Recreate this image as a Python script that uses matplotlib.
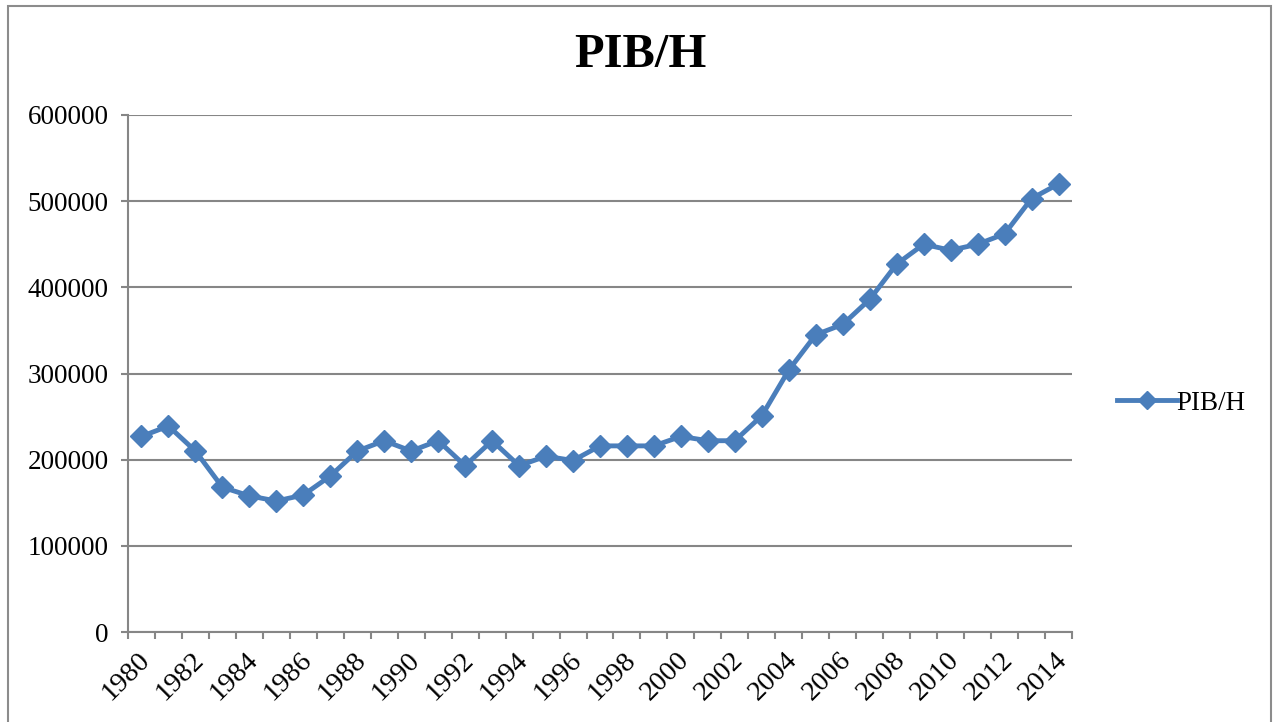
import matplotlib
matplotlib.use("Agg")
import matplotlib.pyplot as plt
from matplotlib.patches import Rectangle
from matplotlib.lines import Line2D
from matplotlib.ticker import FixedLocator, NullFormatter
from matplotlib.transforms import ScaledTranslation

years = list(range(1980, 2015))
pib_h = [227000, 239000, 210000, 168000, 158000, 152000, 159000, 181000, 210000, 222000,
         210000, 222000, 193000, 222000, 193000, 204000, 199000, 216000, 216000, 216000,
         227000, 222000, 222000, 251000, 304000, 345000, 357000, 386000, 427000, 450000,
         443000, 450000, 462000, 503000, 520000]
year_labels = [str(y) for y in years[::2]]
y_ticks = [0, 100000, 200000, 300000, 400000, 500000, 600000]
title = "PIB/H"
series_name = "PIB/H"

plt.rcParams['font.family'] = ['Liberation Serif', 'DejaVu Serif']

W, H = 1274, 722
fig = plt.figure(figsize=(W / 100, H / 100), dpi=100)
ax = fig.add_axes([128 / W, 1 - 632 / H, (1072 - 128) / W, (632 - 115) / H])

grid_c = '#868686'
line_c = '#4a7ebb'

x = list(range(len(years)))
ax.plot(x, pib_h, color=line_c, lw=3.5, marker='D', markersize=11.5,
        markerfacecolor=line_c, markeredgecolor=line_c, zorder=3)

ax.set_xlim(-0.5, len(years) - 0.5)
ax.set_ylim(0, 600000)
ax.set_yticks(y_ticks)
ax.set_yticklabels([str(v) for v in y_ticks])
ax.yaxis.grid(True, color=grid_c, lw=1.5)
ax.set_axisbelow(True)

# x ticks at category boundaries, labels at every other category center
ax.xaxis.set_major_locator(FixedLocator([i - 0.5 for i in range(len(years) + 1)]))
ax.xaxis.set_major_formatter(NullFormatter())
ax.xaxis.set_minor_locator(FixedLocator(x[::2]))
ax.set_xticklabels(year_labels, minor=True, rotation=45, ha='right', va='top',
                   rotation_mode='anchor', fontsize=20.5)
ax.tick_params(axis='x', which='major', length=5, width=1.5, color=grid_c, direction='out')
ax.tick_params(axis='x', which='minor', length=0, pad=11)
ax.tick_params(axis='y', length=5, width=1.5, color=grid_c, labelsize=19.5, pad=9)
offset = ScaledTranslation(-4 / 100, 0, fig.dpi_scale_trans)
for lbl in ax.get_xticklabels(minor=True):
    lbl.set_transform(lbl.get_transform() + offset)

for s in ['top', 'right']:
    ax.spines[s].set_visible(False)
for s in ['left', 'bottom']:
    ax.spines[s].set_color(grid_c)
    ax.spines[s].set_linewidth(1.5)

fig.text(640 / W, 1 - 55 / H, title, ha='center', va='center', fontsize=35, fontweight='bold')

handle = Line2D([], [], color=line_c, lw=3.5, marker='D', markersize=9,
                markerfacecolor=line_c, markeredgecolor=line_c)
fig.legend([handle], [series_name], loc='center left',
           bbox_to_anchor=(1117 / W, 1 - 403 / H), frameon=False,
           fontsize=19.5, handlelength=2.2, handletextpad=0.0, borderaxespad=0,
           borderpad=0)

border = Rectangle((8 / W, -0.05), (1271 - 8) / W, (1 - 6 / H) + 0.05,
                   transform=fig.transFigure, fill=False, edgecolor='#8c8c8c', lw=1.5,
                   clip_on=False)
fig.add_artist(border)

fig.savefig('out.png', dpi=100)
